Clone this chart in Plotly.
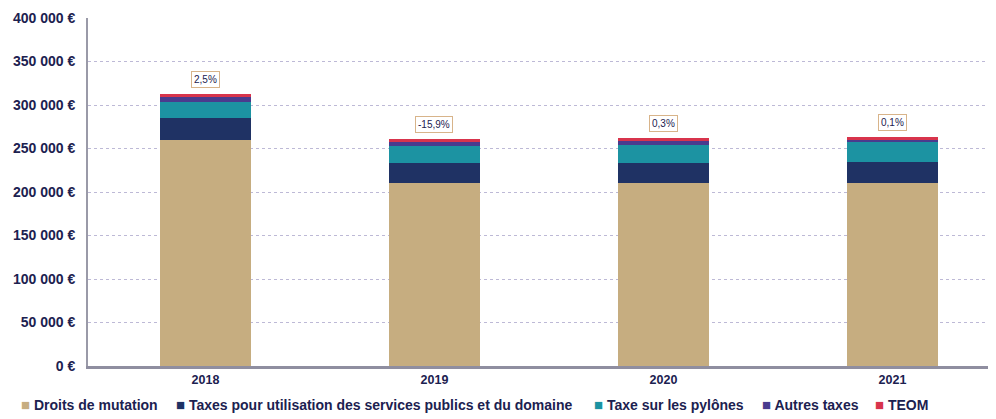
import plotly.graph_objects as go

YEARS = ["2018", "2019", "2020", "2021"]
DROITS_MUTATION = [260000, 210000, 210000, 210000]
TAXES_SERVICES = [25000, 23000, 23000, 24000]
TAXE_PYLONES = [19000, 20000, 21000, 23000]
AUTRES_TAXES = [5000, 5000, 5000, 3000]
TEOM = [4000, 3000, 3000, 3000]
EVOLUTION = ["2,5%", "-15,9%", "0,3%", "0,1%"]
Y_TICKS = [0, 50000, 100000, 150000, 200000, 250000, 300000, 350000, 400000]
Y_TICK_TEXT = ["0 €", "50 000 €", "100 000 €", "150 000 €", "200 000 €",
               "250 000 €", "300 000 €", "350 000 €", "400 000 €"]

INK = "#1c2150"
FONT = "Liberation Sans, Arial, sans-serif"

series = [
    ("Droits de mutation", DROITS_MUTATION, "#c6ad80"),
    ("Taxes pour utilisation des services publics et du domaine", TAXES_SERVICES, "#1f3264"),
    ("Taxe sur les pylônes", TAXE_PYLONES, "#1c93a2"),
    ("Autres taxes", AUTRES_TAXES, "#4a3b8e"),
    ("TEOM", TEOM, "#d8344c"),
]
# left edge of each legend entry, as a fraction of the plot width (may be negative)
LEGEND_X = [-0.076, 0.095, 0.555, 0.740, 0.864]

fig = go.Figure()
for name, vals, color in series:
    fig.add_trace(go.Bar(x=YEARS, y=vals, name=name, marker=dict(color=color, line=dict(width=0)),
                         width=0.4, showlegend=False))

# evolution labels above each stack
totals = [sum(v) for v in zip(*(s[1] for s in series))]
for i, (tot, txt) in enumerate(zip(totals, EVOLUTION)):
    fig.add_annotation(x=i, y=tot, xref="x", yref="y", text=txt, showarrow=False,
                       yanchor="bottom", yshift=6,
                       font=dict(size=10, color=INK, family=FONT),
                       bgcolor="white", bordercolor="#d8b48a", borderwidth=1, borderpad=2)

# legend row drawn as text so the entries sit where the reference puts them
for (name, _, color), lx in zip(series, LEGEND_X):
    fig.add_annotation(
        x=lx, y=-0.112, xref="paper", yref="paper", xanchor="left", yanchor="middle",
        showarrow=False,
        text=f'<span style="color:{color};font-size:15px">■</span> {name}',
        font=dict(size=14, color=INK, family=FONT, weight="bold"),
    )

# page body has an 8px margin: shrink the figure so the plot lands where the reference has it
fig.update_layout(
    template="none",
    barmode="stack",
    width=988,
    height=411,
    paper_bgcolor="white",
    plot_bgcolor="white",
    font=dict(family=FONT, color=INK, size=12),
    margin=dict(l=80, r=0, t=10, b=53, autoexpand=False),
    showlegend=False,
)
fig.update_xaxes(
    type="category",
    range=[-0.513, 3.452],
    showgrid=False,
    showline=True,
    linecolor="#8f8ea0",
    linewidth=3,
    ticks="",
    tickfont=dict(size=12.5, color=INK, family=FONT, weight="bold"),
)
fig.update_yaxes(
    range=[0, 400000],
    tickvals=Y_TICKS,
    ticktext=Y_TICK_TEXT,
    showgrid=True,
    gridcolor="#bdb9d6",
    griddash="dot",
    gridwidth=1,
    showline=True,
    linecolor="#9a9aa8",
    linewidth=2,
    zeroline=False,
    ticks="",
    ticklabelstandoff=8,
    tickfont=dict(size=14, color=INK, family=FONT, weight="bold"),
)

fig.write_html("out.html")
